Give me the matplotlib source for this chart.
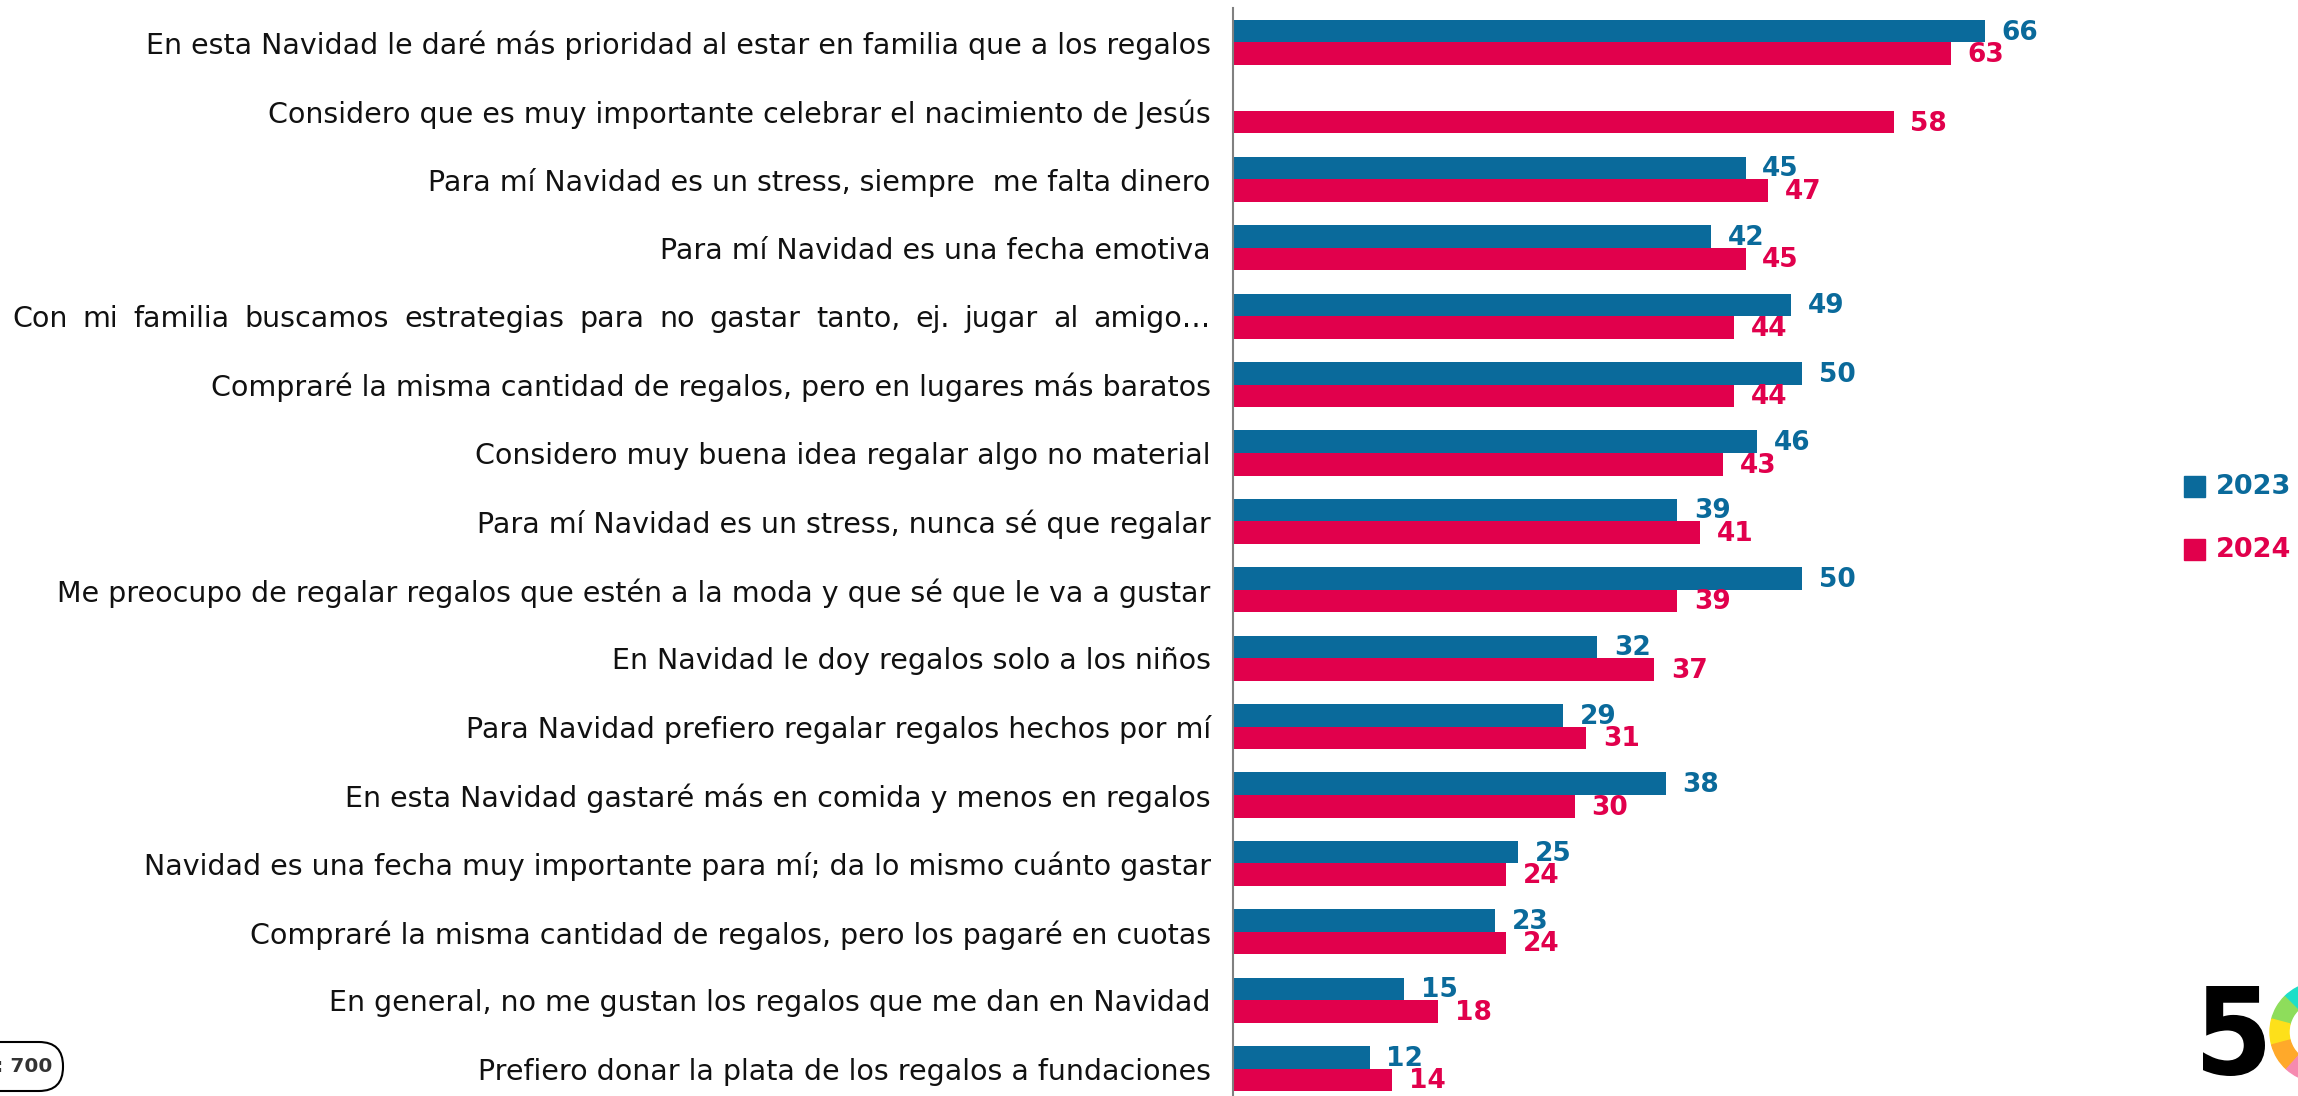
import numpy as np
import matplotlib.pyplot as plt
from matplotlib.patches import Wedge, PathPatch, FancyBboxPatch
from matplotlib.textpath import TextPath
from matplotlib.font_manager import FontProperties
from matplotlib.transforms import Affine2D

categories = [
    "En esta Navidad le daré más prioridad al estar en familia que a los regalos",
    "Considero que es muy importante celebrar el nacimiento de Jesús",
    "Para mí Navidad es un stress, siempre  me falta dinero",
    "Para mí Navidad es una fecha emotiva",
    "Con mi familia buscamos estrategias para no gastar tanto, ej. jugar al amigo…",
    "Compraré la misma cantidad de regalos, pero en lugares más baratos",
    "Considero muy buena idea regalar algo no material",
    "Para mí Navidad es un stress, nunca sé que regalar",
    "Me preocupo de regalar regalos que estén a la moda y que sé que le va a gustar",
    "En Navidad le doy regalos solo a los niños",
    "Para Navidad prefiero regalar regalos hechos por mí",
    "En esta Navidad gastaré más en comida y menos en regalos",
    "Navidad es una fecha muy importante para mí; da lo mismo cuánto gastar",
    "Compraré la misma cantidad de regalos, pero los pagaré en cuotas",
    "En general, no me gustan los regalos que me dan en Navidad",
    "Prefiero donar la plata de los regalos a fundaciones",
]
vals_2023 = [66, None, 45, 42, 49, 50, 46, 39, 50, 32, 29, 38, 25, 23, 15, 12]
vals_2024 = [63, 58, 47, 45, 44, 44, 43, 41, 39, 37, 31, 30, 24, 24, 18, 14]
years = ["2023", "2024"]
n_total = 700

BLUE = "#0A6A9B"
RED = "#E1004C"
W, H = 2298, 1096

fig = plt.figure(figsize=(W / 100, H / 100), dpi=100)
# axes placed in pixel terms: spine at x=1233, top at y=8
ax = fig.add_axes([1233 / W, 0, (2060 - 1233) / W, 1 - 8 / H])

y = np.arange(len(categories))
bh = 0.33
b23 = [v if v is not None else 0 for v in vals_2023]
ax.barh(y - bh / 2, b23, height=bh, color=BLUE)
ax.barh(y + bh / 2, vals_2024, height=bh, color=RED)

lab_font = dict(family="DejaVu Sans", fontweight="bold", fontsize=19)
for i, v in enumerate(vals_2023):
    if v is None:
        continue
    ax.annotate(str(v), (v, i - bh / 2), xytext=(12, -1), textcoords="offset points",
                ha="left", va="center", color=BLUE, **lab_font)
for i, v in enumerate(vals_2024):
    ax.annotate(str(v), (v, i + bh / 2), xytext=(12, -1), textcoords="offset points",
                ha="left", va="center", color=RED, **lab_font)

ax.set_xlim(0, (2060 - 1233) / 11.39)
ax.set_ylim(15.40, -0.504)
ax.set_yticks(y)
ax.set_yticklabels(categories, fontsize=20.5, family="DejaVu Sans", color="#111111")
ax.tick_params(axis="y", length=0, pad=16)
ax.set_xticks([])
for s in ["top", "right", "bottom"]:
    ax.spines[s].set_visible(False)
ax.spines["left"].set_color("#808080")
ax.spines["left"].set_linewidth(1.5)

# the longest label is spread (justified) across the left margin
fig.canvas.draw()
r = fig.canvas.get_renderer()
long_i = 4
tl = ax.get_yticklabels()[long_i]
right = tl.get_window_extent(r).x1
tl.set_visible(False)
words = categories[long_i].split(" ")
ymid = ax.transData.transform((0, long_i))[1] / H
wtexts = [fig.text(0, ymid, w, fontsize=20.5, family="DejaVu Sans", color="#111111",
                   va="center_baseline", ha="left") for w in words]
widths = [t.get_window_extent(r).width for t in wtexts]
left = 12
gap = (right - left - sum(widths)) / (len(words) - 1)
x = left
for t, w in zip(wtexts, widths):
    t.set_x(x / W)
    x += w + gap

# legend on the right
for k, (yr, col) in enumerate(zip(years, [BLUE, RED])):
    yc = 1 - (487 + 63 * k) / H
    fig.patches.append(plt.Rectangle((2184 / W, yc - 10 / H), 21 / W, 21 / H,
                                     transform=fig.transFigure, color=col))
    fig.text(2216 / W, yc, yr, color=col, ha="left", va="center",
             fontsize=19.5, fontweight="bold", family="DejaVu Sans")

# sample size tag
fig.patches.append(FancyBboxPatch((-60, H - 1091), 123, 49,
                                  boxstyle="round,pad=0,rounding_size=24",
                                  fc="white", ec="black", lw=1.5, transform=None))
fig.text(52 / W, 1 - 1067 / H, f"n: {n_total}", ha="right", va="center", fontsize=14.5,
         fontweight="bold", color="#333333", family="DejaVu Sans")

# logo: black "5" and a coloured ring
fp = FontProperties(family="DejaVu Sans", weight="bold")
tp = TextPath((0, 0), "5", prop=fp)
ext = tp.get_extents()
sx = 62 / ext.width
sy = 90 / ext.height
tr = Affine2D().translate(-ext.x0, -ext.y0).scale(sx, sy).translate(2203, H - 1076)
fig.patches.append(PathPatch(tr.transform_path(tp), color="black", lw=0,
                             transform=None))
ring_cols = ["#1DDFC8", "#8EDD5B", "#FDE01A", "#FFA92A", "#F68AB0"]
ring_ang = [(100, 135), (135, 165), (165, 195), (195, 228), (228, 260)]
cx, cy, rad = 2320 / 100, (H - 1032) / 100, 0.50
for col, (a0, a1) in zip(ring_cols, ring_ang):
    fig.patches.append(Wedge((cx, cy), rad, a0, a1, width=0.19, color=col,
                             transform=fig.dpi_scale_trans))

fig.savefig("out.png", dpi=100, facecolor="white")
